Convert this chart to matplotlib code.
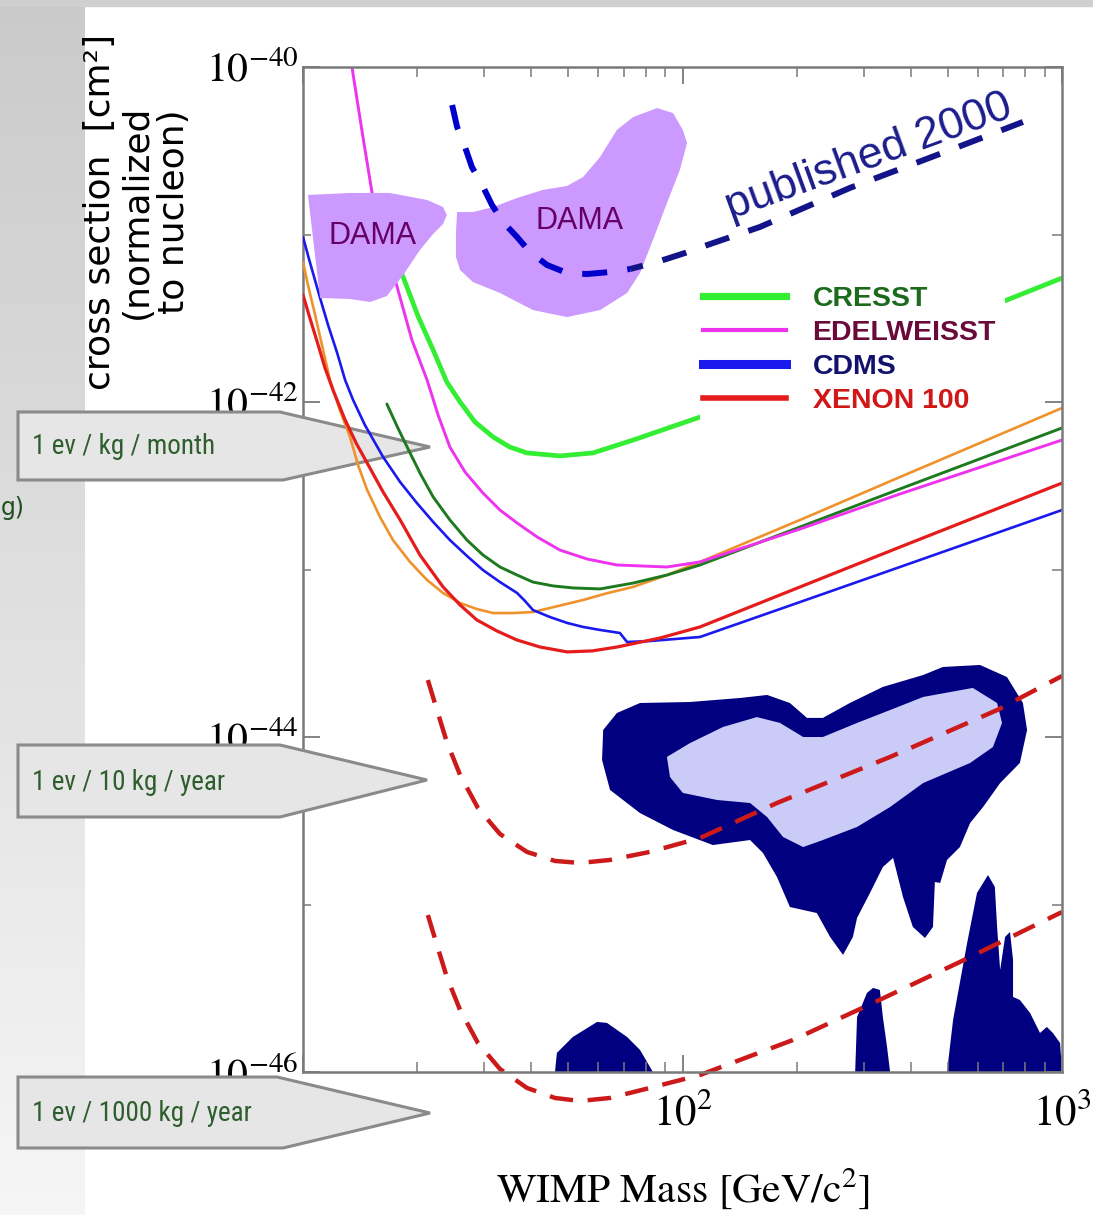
import numpy as np
import matplotlib
matplotlib.use("Agg")
import matplotlib.pyplot as plt
from matplotlib.patches import Polygon, Rectangle
from matplotlib.lines import Line2D
from matplotlib import font_manager
from matplotlib.ticker import FixedLocator, FixedFormatter, NullLocator, NullFormatter

plt.rcParams["mathtext.fontset"] = "stix"
plt.rcParams["mathtext.default"] = "rm"

# ---------------------------------------------------------------------------
# Data: log10(WIMP mass / GeV) and log10(cross section / cm^2)
# ---------------------------------------------------------------------------
cresst_logm = [1.216, 1.264, 1.303, 1.343, 1.379, 1.414, 1.453, 1.501, 1.545, 1.590,
               1.677, 1.764, 1.870, 2.046, 2.441, 2.855, 3.000]
cresst_logs = [-41.003, -41.254, -41.487, -41.690, -41.881, -42.000, -42.119, -42.209,
               -42.269, -42.304, -42.322, -42.304, -42.227, -42.090, -41.749, -41.391, -41.260]

edelweiss_logm = [1.129, 1.155, 1.182, 1.216, 1.248, 1.287, 1.327, 1.356, 1.387, 1.427,
                  1.474, 1.519, 1.564, 1.617, 1.677, 1.748, 1.827, 1.959, 2.046, 2.310,
                  2.573, 3.000]
edelweiss_logs = [-40.000, -40.376, -40.752, -41.033, -41.313, -41.630, -41.869, -42.078,
                  -42.269, -42.418, -42.543, -42.645, -42.722, -42.806, -42.884, -42.937,
                  -42.973, -42.985, -42.955, -42.758, -42.549, -42.227]

dkgreen_logm = [1.221, 1.250, 1.282, 1.311, 1.343, 1.387, 1.432, 1.474, 1.519, 1.564,
                1.606, 1.659, 1.711, 1.783, 1.870, 1.959, 2.046, 2.310, 2.573, 3.000]
dkgreen_logs = [-42.012, -42.155, -42.304, -42.436, -42.567, -42.704, -42.824, -42.913,
                -42.985, -43.033, -43.075, -43.098, -43.110, -43.116, -43.081, -43.033,
                -42.973, -42.746, -42.519, -42.155]

orange_logm = [1.000, 1.013, 1.032, 1.050, 1.071, 1.097, 1.124, 1.145, 1.169, 1.203,
               1.237, 1.282, 1.327, 1.369, 1.414, 1.458, 1.501, 1.553, 1.606, 1.672,
               1.738, 1.804, 1.870, 1.959, 2.046, 2.310, 2.573, 3.000]
orange_logs = [-41.164, -41.301, -41.481, -41.660, -41.869, -42.048, -42.209, -42.376,
               -42.525, -42.687, -42.824, -42.955, -43.063, -43.140, -43.200, -43.236,
               -43.260, -43.260, -43.254, -43.218, -43.182, -43.140, -43.104, -43.033,
               -42.955, -42.704, -42.448, -42.036]

cdms_logm = [1.000, 1.018, 1.045, 1.066, 1.090, 1.111, 1.132, 1.163, 1.211, 1.256,
             1.300, 1.343, 1.387, 1.432, 1.474, 1.519, 1.564, 1.585, 1.606, 1.651,
             1.696, 1.738, 1.783, 1.835, 1.854, 1.914, 2.046, 2.310, 2.573, 3.000]
cdms_logs = [-41.015, -41.164, -41.379, -41.540, -41.707, -41.869, -41.988, -42.137,
             -42.328, -42.478, -42.603, -42.716, -42.824, -42.919, -43.003, -43.075,
             -43.140, -43.188, -43.242, -43.284, -43.319, -43.343, -43.361, -43.379,
             -43.433, -43.427, -43.403, -43.194, -42.985, -42.645]

xenon_logm = [1.000, 1.018, 1.040, 1.058, 1.079, 1.111, 1.140, 1.169, 1.211, 1.256,
              1.308, 1.369, 1.414, 1.458, 1.511, 1.564, 1.625, 1.696, 1.762, 1.827,
              1.941, 2.046, 2.310, 2.573, 3.000]
xenon_logs = [-41.361, -41.498, -41.660, -41.797, -41.928, -42.107, -42.245, -42.364,
              -42.537, -42.704, -42.913, -43.104, -43.212, -43.301, -43.367, -43.421,
              -43.463, -43.492, -43.486, -43.463, -43.409, -43.343, -43.104, -42.866,
              -42.484]

# limit published in 2000 (dashed)
pub2000_logm = [1.393, 1.406, 1.427, 1.445, 1.472, 1.498, 1.527, 1.564, 1.598, 1.643,
                1.696, 1.748, 1.809, 1.862, 1.933, 2.007, 2.065, 2.204, 2.441, 2.705, 2.897]
pub2000_logs = [-40.227, -40.358, -40.478, -40.597, -40.704, -40.824, -40.925, -41.015,
                -41.104, -41.182, -41.230, -41.236, -41.224, -41.206, -41.164, -41.110,
                -41.063, -40.955, -40.722, -40.496, -40.328]

# projected sensitivities (dashed red)
proj10_logm = [1.329, 1.353, 1.379, 1.414, 1.461, 1.519, 1.590, 1.664, 1.730, 1.809,
               1.914, 2.046, 2.249, 2.547, 2.829, 3.000]
proj10_logs = [-43.660, -43.839, -44.030, -44.227, -44.424, -44.579, -44.686, -44.740,
               -44.752, -44.734, -44.686, -44.603, -44.394, -44.119, -43.839, -43.636]
proj1000_logm = [1.329, 1.353, 1.379, 1.414, 1.461, 1.519, 1.590, 1.664, 1.730, 1.809,
                 1.914, 2.046, 2.291, 2.502, 2.731, 3.000]
proj1000_logs = [-45.063, -45.242, -45.433, -45.630, -45.827, -45.982, -46.095, -46.155,
                 -46.173, -46.155, -46.095, -46.018, -45.809, -45.588, -45.343, -45.045]

# DAMA allowed regions
dama_lo_logm = [1.013, 1.124, 1.229, 1.327, 1.369, 1.379, 1.369, 1.343, 1.308, 1.264,
                1.221, 1.177, 1.124, 1.045]
dama_lo_logs = [-40.764, -40.752, -40.752, -40.794, -40.836, -40.884, -40.937, -40.997,
                -41.093, -41.242, -41.367, -41.403, -41.385, -41.379]
dama_hi_logm = [1.406, 1.448, 1.501, 1.564, 1.632, 1.696, 1.738, 1.783, 1.827, 1.870,
                1.933, 1.975, 2.001, 2.012, 1.993, 1.959, 1.922, 1.888, 1.854, 1.783,
                1.696, 1.606, 1.519, 1.448, 1.414, 1.403, 1.403]
dama_hi_logs = [-40.866, -40.866, -40.836, -40.782, -40.734, -40.710, -40.657, -40.537,
                -40.376, -40.299, -40.245, -40.275, -40.376, -40.454, -40.615, -40.812,
                -41.033, -41.230, -41.349, -41.451, -41.493, -41.451, -41.349, -41.284,
                -41.212, -41.134, -40.991]

# SUSY model regions
susy_outer_logm = [1.791, 1.827, 1.888, 2.020, 2.152, 2.223, 2.283, 2.328, 2.370, 2.441,
                   2.528, 2.634, 2.686, 2.784, 2.855, 2.897, 2.908, 2.889, 2.837, 2.792,
                   2.758, 2.731, 2.697, 2.679, 2.665, 2.660, 2.639, 2.607, 2.581, 2.555,
                   2.528, 2.494, 2.460, 2.449, 2.423, 2.389, 2.354, 2.283, 2.249, 2.212,
                   2.178, 2.080, 1.975, 1.888, 1.809, 1.788]
susy_outer_logs = [-43.958, -43.857, -43.797, -43.791, -43.767, -43.749, -43.797, -43.886,
                   -43.886, -43.797, -43.701, -43.630, -43.582, -43.570, -43.642, -43.797,
                   -43.958, -44.155, -44.275, -44.418, -44.513, -44.657, -44.734, -44.871,
                   -44.866, -45.134, -45.200, -45.134, -44.955, -44.722, -44.776, -44.931,
                   -45.080, -45.194, -45.301, -45.194, -45.051, -45.015, -44.836, -44.692,
                   -44.615, -44.645, -44.555, -44.454, -44.316, -44.137]
susy_inner_logm = [1.959, 2.020, 2.107, 2.196, 2.257, 2.318, 2.370, 2.460, 2.547, 2.634,
                   2.765, 2.829, 2.842, 2.818, 2.758, 2.634, 2.547, 2.460, 2.370, 2.318,
                   2.265, 2.223, 2.178, 2.091, 2.001, 1.967]
susy_inner_logs = [-44.119, -44.036, -43.940, -43.881, -43.916, -44.000, -44.000, -43.916,
                   -43.839, -43.761, -43.707, -43.797, -43.916, -44.060, -44.155, -44.275,
                   -44.418, -44.537, -44.615, -44.657, -44.597, -44.478, -44.394, -44.376,
                   -44.334, -44.239]
susy_a_logm = [1.664, 1.669, 1.711, 1.775, 1.801, 1.854, 1.888, 1.922]
susy_a_logs = [-46.000, -45.886, -45.791, -45.701, -45.707, -45.791, -45.868, -46.000]
susy_b_logm = [2.455, 2.460, 2.486, 2.502, 2.520, 2.528, 2.539, 2.547]
susy_b_logs = [-46.000, -45.672, -45.528, -45.498, -45.510, -45.672, -45.851, -46.000]
susy_c_logm = [2.697, 2.713, 2.750, 2.776, 2.805, 2.823, 2.829, 2.837, 2.850, 2.863,
               2.871, 2.871, 2.889, 2.916, 2.942, 2.960, 2.976, 2.995, 3.000]
susy_c_logs = [-46.000, -45.689, -45.230, -44.931, -44.824, -44.895, -45.134, -45.391,
               -45.194, -45.164, -45.331, -45.552, -45.570, -45.648, -45.767, -45.731,
               -45.767, -45.827, -46.000]

legend_labels = ["CRESST", "EDELWEISST", "CDMS", "XENON 100"]
legend_text_colors = ["#1c6b1c", "#6a0a3a", "#12126e", "#d01818"]
callout_labels = ["1 ev / kg / month", "1 ev / 10 kg / year", "1 ev / 1000 kg / year"]
ytick_values = [1e-46, 1e-44, 1e-42, 1e-40]
ytick_labels = ["$10^{-46}$", "$10^{-44}$", "$10^{-42}$", "$10^{-40}$"]
xtick_values = [10, 100, 1000]
xtick_labels = ["$10^{1}$", "$10^{2}$", "$10^{3}$"]

# ---------------------------------------------------------------------------
names = {f.name for f in font_manager.fontManager.ttflist}
narrow = next((n for n in ["Liberation Sans Narrow", "Roboto Condensed", "Arial Narrow"]
               if n in names), None)
if narrow is None:
    narrow, narrow_size = "Roboto", 16.5
else:
    narrow_size = 19.5

W, H = 1093, 1215
fig = plt.figure(figsize=(W / 100, H / 100), dpi=100)
fig.patch.set_facecolor("white")


def fx(px):
    return px / W


def fy(py):
    return 1 - py / H


def xy(logm, logs):
    return np.column_stack([10 ** np.asarray(logm), 10 ** np.asarray(logs)])


# slide decoration: grey band on the left, thin strip on top
band = fig.add_axes([0, 0, fx(85), 1], zorder=0)
band.imshow(np.linspace(0.79, 0.96, 256)[:, None], cmap="gray", vmin=0, vmax=1,
            aspect="auto", extent=[0, 1, 0, 1])
band.set_axis_off()
fig.add_artist(Rectangle((0, fy(6)), 1, 6 / H, transform=fig.transFigure,
                         color="#cfcfcf", zorder=0.5))

rect = [fx(303), fy(1072), fx(1062) - fx(303), (1072 - 67) / H]
ax_bg = fig.add_axes(rect, zorder=1)
ax = fig.add_axes(rect, zorder=3)
for a in (ax_bg, ax):
    a.set_xscale("log")
    a.set_yscale("log")
    a.set_xlim(10, 1000)
    a.set_ylim(1e-46, 1e-40)

spine_col = "#7a7a7a"

# background axes: white face, left spine, tick labels
ax_bg.set_facecolor("white")
for s in ("top", "right", "bottom"):
    ax_bg.spines[s].set_visible(False)
ax_bg.spines["left"].set_color(spine_col)
ax_bg.spines["left"].set_linewidth(1.8)
ax_bg.yaxis.set_major_locator(FixedLocator(ytick_values))
ax_bg.yaxis.set_major_formatter(FixedFormatter(ytick_labels))
ax_bg.yaxis.set_minor_locator(FixedLocator([1e-45, 1e-43, 1e-41]))
ax_bg.yaxis.set_minor_formatter(NullFormatter())
ax_bg.xaxis.set_major_locator(FixedLocator(xtick_values))
ax_bg.xaxis.set_major_formatter(FixedFormatter(xtick_labels))
ax_bg.xaxis.set_minor_locator(NullLocator())
ax_bg.tick_params(axis="y", which="major", direction="in", length=12, width=1.3,
                  color=spine_col, pad=3, labelsize=30)
ax_bg.tick_params(axis="y", which="minor", direction="in", length=6, width=1.1,
                  color=spine_col)
ax_bg.tick_params(axis="x", which="both", length=0, pad=15, labelsize=31)
for lab in ax_bg.get_xticklabels() + ax_bg.get_yticklabels():
    lab.set_family("STIXGeneral")

# data axes: transparent, remaining spines and ticks
ax.set_facecolor("none")
ax.spines["left"].set_visible(False)
for s in ("top", "right", "bottom"):
    ax.spines[s].set_color(spine_col)
    ax.spines[s].set_linewidth(1.8)
ax.yaxis.set_major_locator(FixedLocator(ytick_values))
ax.yaxis.set_minor_locator(FixedLocator([1e-45, 1e-43, 1e-41]))
ax.tick_params(which="both", direction="in", top=True, right=True, left=False,
               labelleft=False, labelbottom=False, color=spine_col)
ax.tick_params(which="major", length=12, width=1.3)
ax.tick_params(which="minor", length=7, width=1.1)

# SUSY regions
ax.add_patch(Polygon(xy(susy_outer_logm, susy_outer_logs), closed=True, fc="#000080", ec="none", zorder=1))
ax.add_patch(Polygon(xy(susy_inner_logm, susy_inner_logs), closed=True, fc="#cbcbf8", ec="none", zorder=1.05))
for m, s in ((susy_a_logm, susy_a_logs), (susy_b_logm, susy_b_logs), (susy_c_logm, susy_c_logs)):
    ax.add_patch(Polygon(xy(m, s), closed=True, fc="#000080", ec="none", zorder=1))

# exclusion curves
curves = [
    (orange_logm, orange_logs, "#f0922b", 1.9),
    (dkgreen_logm, dkgreen_logs, "#1e7a1e", 2.1),
    (edelweiss_logm, edelweiss_logs, "#ee33ee", 2.1),
    (cdms_logm, cdms_logs, "#1a1aee", 1.9),
    (xenon_logm, xenon_logs, "#e51c1c", 2.3),
    (cresst_logm, cresst_logs, "#33ee33", 3.4),
]
for m, s, c, w in curves:
    p = xy(m, s)
    ax.plot(p[:, 0], p[:, 1], color=c, lw=w, solid_capstyle="round",
            solid_joinstyle="round", zorder=2)

# projected sensitivities
for m, s in ((proj10_logm, proj10_logs), (proj1000_logm, proj1000_logs)):
    p = xy(m, s)
    ax.plot(p[:, 0], p[:, 1], color="#cc1a1a", lw=3.2, linestyle=(0, (5.3, 3.3)),
            zorder=2.1, clip_on=False)

# DAMA regions
ax.add_patch(Polygon(xy(dama_lo_logm, dama_lo_logs), closed=True, fc="#cc99ff", ec="none", zorder=2.2))
ax.add_patch(Polygon(xy(dama_hi_logm, dama_hi_logs), closed=True, fc="#cc99ff", ec="none", zorder=2.2))
ax.text(0.092, 0.832, "DAMA", transform=ax.transAxes, ha="center", va="center",
        family="Liberation Sans", size=22, color="#660066", zorder=2.6)
ax.text(0.365, 0.847, "DAMA", transform=ax.transAxes, ha="center", va="center",
        family="Liberation Sans", size=22, color="#660066", zorder=2.6)

# 2000 limit
p = xy(pub2000_logm, pub2000_logs)
ax.plot(p[:14, 0], p[:14, 1], color="#0000cc", lw=4.3, linestyle=(0, (4.2, 3.4)), zorder=2.4)
ax.plot(p[13:, 0], p[13:, 1], color="#14148a", lw=4.3, linestyle=(2.0, (4.2, 3.4)), zorder=2.4)
ax.text(0.745, 0.910, "published 2000", transform=ax.transAxes, ha="center", va="center",
        rotation=20, rotation_mode="anchor", family="Liberation Sans", size=32,
        color="#1c1c8c", zorder=2.6)

# legend panel
ax.add_patch(Rectangle((0.523, 0.649), 0.402, 0.157, transform=ax.transAxes,
                       fc="white", ec="none", zorder=2.3))
handles = [Line2D([], [], color="#33ee33", lw=5.2),
           Line2D([], [], color="#ee33ee", lw=3.0),
           Line2D([], [], color="#1a1aee", lw=6.5),
           Line2D([], [], color="#e51c1c", lw=4.0)]
leg = ax.legend(handles, legend_labels, loc="upper left", bbox_to_anchor=(0.527, 0.782),
                bbox_transform=ax.transAxes, frameon=False,
                prop=dict(family="Liberation Sans", weight="bold", size=20.5),
                handlelength=2.9, handletextpad=0.95, labelspacing=0.28,
                borderpad=0, borderaxespad=0)
for t, c in zip(leg.get_texts(), legend_text_colors):
    t.set_color(c)

# callouts
callouts = [((18, 412), (280, 412), (430, 447), (283, 480), (18, 480)),
            ((18, 745), (280, 745), (427, 780), (280, 817), (18, 817)),
            ((18, 1077), (277, 1077), (430, 1113), (283, 1148), (18, 1148))]
for verts, label in zip(callouts, callout_labels):
    pts = [(fx(a), fy(b)) for a, b in verts]
    fig.add_artist(Polygon(pts, closed=True, transform=fig.transFigure, fc="#e6e6e6",
                           ec="#8a8a8a", lw=2.2, zorder=2))
    ymid = (verts[0][1] + verts[4][1]) / 2 + 1
    fig.text(fx(32), fy(ymid), label, ha="left", va="center", family=narrow,
             size=narrow_size, color="#2e5e2e", zorder=2.1)

# axis titles
fig.text(fx(137), fy(212), "cross section  [cm²]\n(normalized\nto nucleon)", rotation=90,
         ha="center", va="center", multialignment="center", family="DejaVu Sans",
         size=26, linespacing=1.12, zorder=5)
fig.text(fx(683), fy(1189), "WIMP Mass [GeV/c$^2$]", ha="center", va="center",
         family="STIXGeneral", size=30, zorder=5)
fig.text(fx(1), fy(508), "g)", ha="left", va="center", family="DejaVu Sans",
         size=17, color="#1e4f1e", zorder=5)

fig.savefig("out.png", dpi=100)
